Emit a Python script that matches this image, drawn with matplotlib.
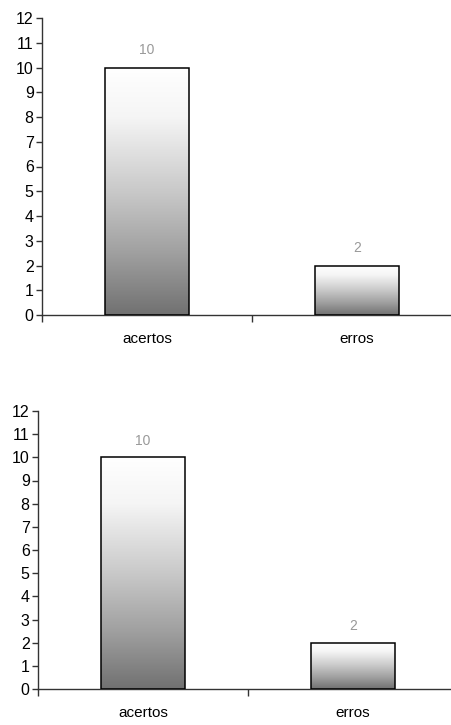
import numpy as np
import matplotlib
matplotlib.use('Agg')
import matplotlib.pyplot as plt
from matplotlib.colors import LinearSegmentedColormap
from matplotlib.patches import Rectangle

# Data for both panels
categories = ['acertos', 'erros']
values_top = [10, 2]
values_bottom = [10, 2]
yticks = list(range(0, 13))

W, H = 452, 725
plt.rcParams['font.family'] = ['Liberation Sans Narrow', 'Liberation Sans', 'DejaVu Sans']

fig = plt.figure(figsize=(W / 100, H / 100), dpi=100)
# white at the top of each bar fading to grey at the base
fade = LinearSegmentedColormap.from_list('fade', [
    (0.0, '#ffffff'), (0.2, '#f5f5f5'), (0.5, '#c9c9c9'),
    (0.75, '#a0a0a0'), (1.0, '#717171')])


def px_axes(left, right, top, bottom):
    """Axes placed by pixel edges measured from the top-left corner."""
    return fig.add_axes([left / W, (H - bottom) / H, (right - left) / W, (bottom - top) / H])


def draw_panel(ax, values):
    ax.set_xlim(0, 2)
    ax.set_ylim(0, 12)
    grad = np.linspace(0, 1, 256).reshape(-1, 1)
    for i, v in enumerate(values):
        x0 = i + 0.5 - 0.2
        rect = Rectangle((x0, 0), 0.4, v, facecolor='none', edgecolor='black',
                         linewidth=1.1, zorder=3)
        ax.add_patch(rect)
        im = ax.imshow(grad, cmap=fade, vmin=0, vmax=1, aspect='auto',
                       extent=(x0, x0 + 0.4, 0, v), origin='upper', zorder=2)
        im.set_clip_path(rect)
        ax.text(i + 0.5, v + 0.7, str(v), ha='center', va='center',
                color='#999999', fontsize=10)

    for side in ('top', 'right'):
        ax.spines[side].set_visible(False)
    for side in ('left', 'bottom'):
        ax.spines[side].set_color('#333333')
        ax.spines[side].set_linewidth(1.0)

    ax.set_yticks(yticks)
    ax.tick_params(axis='y', direction='out', length=4, width=1,
                   color='#333333', labelsize=11.5, pad=2)
    ax.set_xticks([0, 1, 2])
    ax.set_xticklabels([])
    ax.tick_params(axis='x', which='major', direction='out', length=5, width=1,
                   color='#333333')
    ax.set_xticks([0.5, 1.5], minor=True)
    ax.set_xticklabels(categories, minor=True)
    ax.tick_params(axis='x', which='minor', length=0, labelsize=11, pad=12)


ax1 = px_axes(42, 462, 18, 315)
draw_panel(ax1, values_top)

ax2 = px_axes(38, 458, 411, 689)
draw_panel(ax2, values_bottom)

fig.savefig('out.png', dpi=100)
